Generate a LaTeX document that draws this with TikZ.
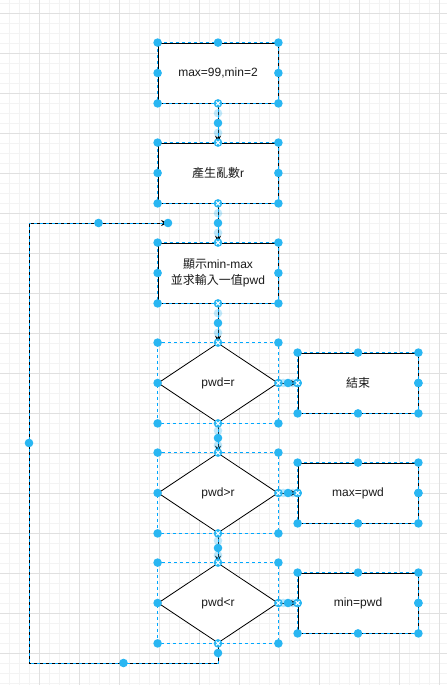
\documentclass[tikz,border=0pt]{standalone}
\usepackage{fontspec}
\setmainfont{Liberation Sans}
\newfontfamily\cjk{Noto Sans CJK TC}
\usetikzlibrary{shapes.geometric,arrows.meta,calc}
\definecolor{hcol}{HTML}{29B6F2}
\definecolor{selc}{HTML}{00A8FF}
\definecolor{gmin}{HTML}{F3F3F3}
\definecolor{gmaj}{HTML}{E0E0E0}
\definecolor{ink}{HTML}{1A1A1A}

% handle helpers
\newcommand\hdl[1]{\fill[hcol] #1 circle (4.3pt);}
\newcommand\hlt[1]{\fill[hcol,opacity=0.3] #1 circle (4.3pt);}
\newcommand\hxh[1]{\pic at #1 {xh};}
\newcommand\rectHandles[1]{%
  \hdl{(#1.north west)}\hdl{(#1.north east)}\hdl{(#1.south west)}%
  \hdl{(#1.south east)}\hdl{(#1.west)}\hdl{(#1.east)}}
\newcommand\dmdHandles[1]{%
  \hdl{(#1.west |- #1.north)}\hdl{(#1.east |- #1.north)}%
  \hdl{(#1.west |- #1.south)}\hdl{(#1.east |- #1.south)}%
  \hdl{(#1.west)}}
\newcommand\edgeHandles[2]{%
  \hlt{($(#1)!0.25!(#2)$)}\hlt{($(#1)!0.75!(#2)$)}%
  \hdl{($(#1)!0.5!(#2)$)}\hxh{(#1)}\hxh{(#2)}}

\tikzset{
  xh/.pic={
    \fill[hcol] (0,0) circle (4.3pt);
    \draw[white,line width=1pt] (-1.9pt,-1.9pt) -- (1.9pt,1.9pt)
                                (-1.9pt,1.9pt) -- (1.9pt,-1.9pt);
  }
}

\begin{document}
\begin{tikzpicture}[x=1pt,y=-1pt,
  txt/.style={font=\fontsize{12}{16}\selectfont,text=ink},
  box/.style={txt,draw=black,fill=white,line width=0.8pt,
    minimum width=120pt,minimum height=60pt,inner sep=0pt,align=center},
  dmd/.style={txt,diamond,draw=black,fill=white,line width=0.8pt,
    minimum width=120pt,minimum height=80pt,inner sep=0pt},
  flow/.style={draw=black,line width=0.8pt,-{Stealth[length=7pt,width=6pt]}},
  sel/.style={draw=selc,line width=0.8pt,dash pattern=on 3pt off 3pt},
  selbox/.style={draw=selc,line width=0.7pt,dash pattern=on 3pt off 3pt},
]
\useasboundingbox (0,0) rectangle (447,685);
\fill[white] (0,0) rectangle (447,685);

% background grid
\foreach \i in {0,...,44} \draw[gmin,line width=0.6pt] (9+10*\i,0) -- (9+10*\i,685);
\foreach \j in {0,...,68} \draw[gmin,line width=0.6pt] (0,3+10*\j) -- (447,3+10*\j);
\foreach \i in {0,...,11} \draw[gmaj,line width=0.7pt] (-1+40*\i,0) -- (-1+40*\i,685);
\foreach \j in {0,...,16} \draw[gmaj,line width=0.7pt] (0,13+40*\j) -- (447,13+40*\j);

% main column
\node[box] (b1) at (218,73) {max=99,min=2};
\node[box] (b2) at (218,173) {{\cjk 產生亂數}r};
\node[box] (b3) at (218,273) {{\cjk 顯示}min-max\\{\cjk 並求輸入一值}pwd};
\node[dmd] (d1) at (218,383) {pwd=r};
\node[dmd] (d2) at (218,493) {pwd\textgreater r};
\node[dmd] (d3) at (218,603) {pwd\textless r};

% branch boxes
\node[box] (e1) at (358,383) {\cjk 結束};
\node[box] (e2) at (358,493) {max=pwd};
\node[box] (e3) at (358,603) {min=pwd};

\coordinate (back) at (168,223);

% connectors
\foreach \a/\b in {b1.south/b2.north,b2.south/b3.north,b3.south/d1.north,
                   d1.south/d2.north,d2.south/d3.north,
                   d1.east/e1.west,d2.east/e2.west,d3.east/e3.west}{
  \draw[flow] (\a) -- (\b);
  \draw[sel] (\a) -- (\b);
}
\draw[flow] (d3.south) -- (d3.south |- 0,663) -- (29,663) -- (29,223) -- (back);
\draw[sel] (d3.south) -- (d3.south |- 0,663) -- (29,663) -- (29,223) -- (back);

% selection outlines
\foreach \n in {b1,b2,b3,e1,e2,e3}
  \draw[sel] (\n.north west) rectangle (\n.south east);
\foreach \n in {d1,d2,d3}
  \draw[selbox] (\n.west |- \n.north) rectangle (\n.east |- \n.south);

% handles on the shapes
\foreach \n in {b1,b2,b3,e1,e2,e3} {\rectHandles{\n}}
\foreach \n in {d1,d2,d3} {\dmdHandles{\n}}
\hdl{(b1.north)}
\foreach \n in {e1,e2,e3} {\hdl{(\n.north)}\hdl{(\n.south)}\hdl{(\n.east)}}

% handles on the connectors
\edgeHandles{b1.south}{b2.north}
\edgeHandles{b2.south}{b3.north}
\edgeHandles{b3.south}{d1.north}
\edgeHandles{d1.south}{d2.north}
\edgeHandles{d2.south}{d3.north}
\edgeHandles{d1.east}{e1.west}
\edgeHandles{d2.east}{e2.west}
\edgeHandles{d3.east}{e3.west}
\hdl{(218,653)}
\hdl{(123.5,663)}
\hdl{(29,443)}
\hdl{(98.5,223)}
\hdl{(back)}
\hxh{(d3.south)}
\end{tikzpicture}
\end{document}
